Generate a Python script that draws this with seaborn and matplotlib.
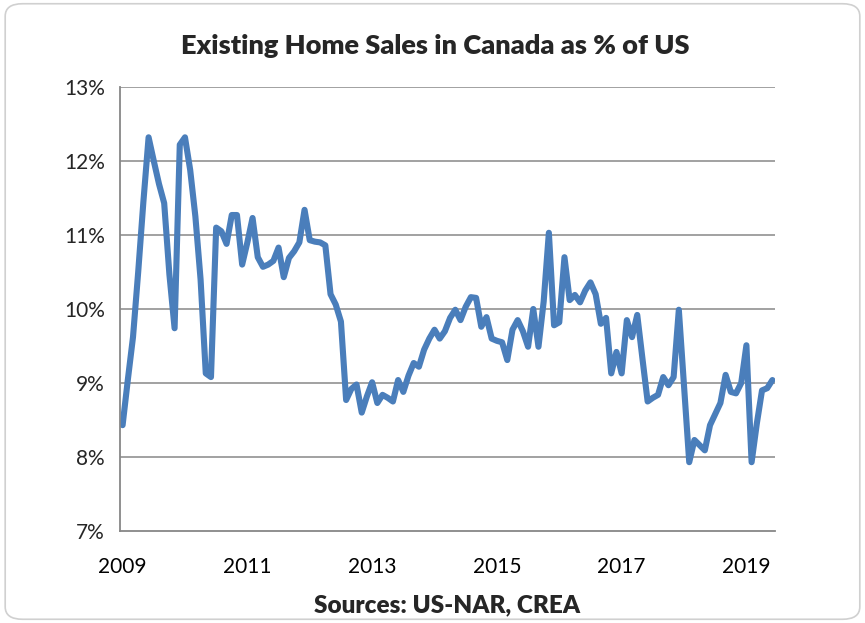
import numpy as np
import pandas as pd
import matplotlib
matplotlib.use("Agg")
import matplotlib.pyplot as plt
import seaborn as sns
from matplotlib.patches import FancyBboxPatch
from matplotlib.ticker import FixedLocator, FuncFormatter

# Monthly values, Jan 2009 - Jun 2019 (Canada existing home sales as % of US)
share_2009_2010 = [8.43, 9.04, 9.62, 10.5, 11.45, 12.32, 12.0, 11.69, 11.43, 10.47, 9.74, 12.22,
                   12.32, 11.88, 11.25, 10.4, 9.13, 9.08, 11.1, 11.05, 10.88, 11.27, 11.27, 10.6]
share_2011_2012 = [10.9, 11.23, 10.7, 10.57, 10.6, 10.65, 10.83, 10.43, 10.69, 10.78, 10.9, 11.34,
                   10.93, 10.91, 10.9, 10.86, 10.2, 10.06, 9.83, 8.77, 8.92, 8.98, 8.6, 8.82]
share_2013_2014 = [9.01, 8.73, 8.84, 8.8, 8.75, 9.04, 8.88, 9.1, 9.27, 9.22, 9.45, 9.6,
                   9.72, 9.6, 9.7, 9.88, 9.99, 9.85, 10.03, 10.16, 10.15, 9.76, 9.89, 9.6]
share_2015_2016 = [9.57, 9.55, 9.31, 9.72, 9.85, 9.7, 9.49, 10.0, 9.49, 10.1, 11.03, 9.78,
                   9.82, 10.7, 10.12, 10.19, 10.09, 10.25, 10.36, 10.2, 9.8, 9.88, 9.13, 9.42]
share_2017_2018 = [9.13, 9.85, 9.62, 9.92, 9.33, 8.75, 8.8, 8.84, 9.08, 8.97, 9.08, 9.99,
                   8.96, 7.93, 8.23, 8.16, 8.09, 8.43, 8.58, 8.73, 9.11, 8.88, 8.86, 9.0]
share_2019 = [9.51, 7.93, 8.45, 8.9, 8.93, 9.04]

year_labels = ["2009", "2011", "2013", "2015", "2017", "2019"]
y_ticks = [7, 8, 9, 10, 11, 12, 13]

share = (share_2009_2010 + share_2011_2012 + share_2013_2014 +
         share_2015_2016 + share_2017_2018 + share_2019)
df = pd.DataFrame({"month": np.arange(len(share)), "share": share})

sns.set_style("white")
plt.rcParams['font.family'] = ['Lato', 'DejaVu Sans']

fig = plt.figure(figsize=(8.65, 6.23), dpi=100)
ax = fig.add_axes([120 / 865, 1 - 531 / 623, 655 / 865, 444 / 623])

# chart area border
fig.patches.append(FancyBboxPatch((0.006, 0.006), 0.988, 0.988,
                                  boxstyle="round,pad=0,rounding_size=0.02",
                                  transform=fig.transFigure, facecolor="none",
                                  edgecolor="#d0d0d0", linewidth=1.2))

grid_c = "#878787"
for v in y_ticks[1:]:
    ax.axhline(v, color=grid_c, linewidth=1.1, zorder=0)

sns.lineplot(data=df, x="month", y="share", ax=ax, color="#4a7ebb",
             linewidth=4.4, solid_joinstyle="round", solid_capstyle="round")

ax.set_xlim(-0.5, len(share) - 0.5)
ax.set_ylim(7, 13)
ax.set_yticks(y_ticks)
ax.yaxis.set_major_formatter(FuncFormatter(lambda v, p: f"{v:.0f}%"))

ax.set_xticks(np.arange(0, len(share), 24))
ax.set_xticklabels(year_labels)
ax.xaxis.set_minor_locator(FixedLocator(np.arange(-0.5, len(share), 1)))
ax.tick_params(axis="x", which="major", length=0, pad=19, labelsize=15, colors="black")
ax.tick_params(axis="x", which="minor", length=7, width=0.9, color=grid_c, direction="out")
ax.tick_params(axis="y", which="major", length=5, width=1.1, color=grid_c,
               direction="out", labelsize=15, pad=6)

for s in ["top", "right"]:
    ax.spines[s].set_visible(False)
for s in ["left", "bottom"]:
    ax.spines[s].set_color(grid_c)
    ax.spines[s].set_linewidth(1.3)

ax.set_ylabel("")
ax.set_xlabel("Sources: US-NAR, CREA", fontsize=17.5, fontweight="heavy", labelpad=12)
fig.text(0.503, 1 - 46 / 623, "Existing Home Sales in Canada as % of US",
         ha="center", va="center", fontsize=19.5, fontweight="heavy")

fig.savefig("out.png", dpi=100)
